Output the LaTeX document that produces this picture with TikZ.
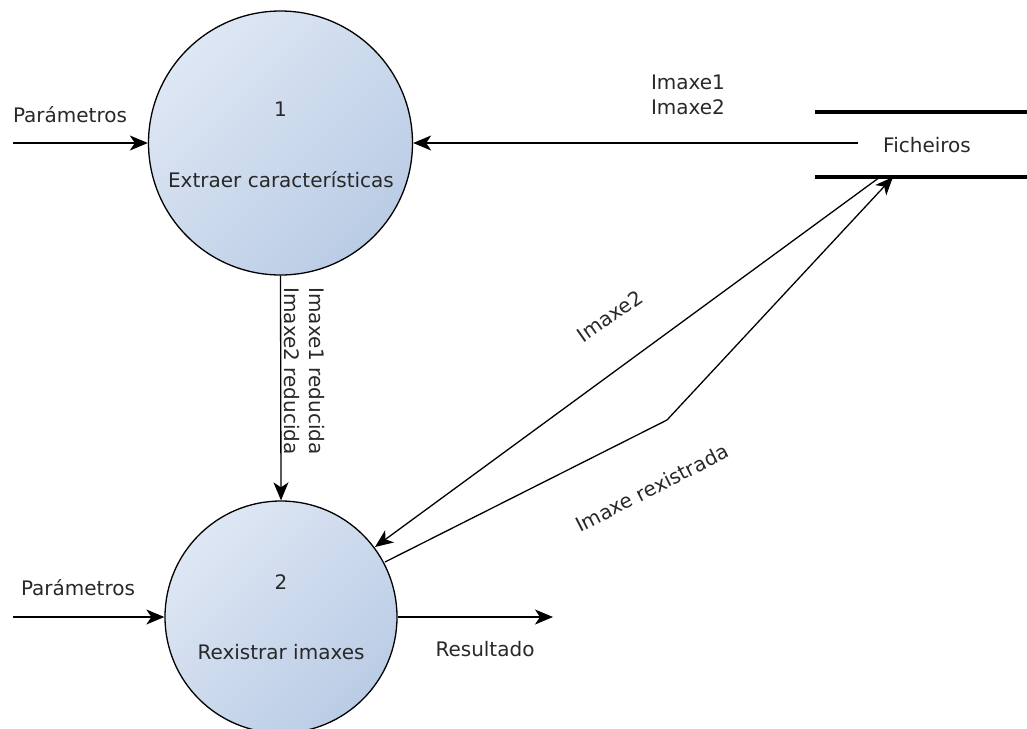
\documentclass[tikz,border=0pt]{standalone}
\usepackage{fontspec}
\setmainfont{DejaVu Sans}
\usetikzlibrary{arrows.meta}
\definecolor{txt}{RGB}{40,40,40}
\definecolor{procA}{RGB}{222,231,244}
\definecolor{procB}{RGB}{186,204,229}
\begin{document}
\begin{tikzpicture}[x=1pt,y=-1pt,
  every node/.style={font=\fontsize{20}{25}\selectfont, text=txt, inner sep=0pt},
  process/.style={circle, draw=black, line width=1.3pt, inner sep=0pt,
    shading=axis, top color=procA, bottom color=procB, shading angle=45},
  flow/.style={line width=1.3pt, -{Stealth[length=18pt,width=15pt,inset=5pt]}},
  plainflow/.style={line width=1.3pt},
  storeline/.style={line width=3.2pt}]
\useasboundingbox (0,0) rectangle (1027,728);

% processes
\node[process, minimum size=264pt] (p1) at (280.5,143) {};
\node[process, minimum size=232pt] (p2) at (281,617) {};
\node (n1) at (280.5,109) {1};
\node (t1) at (281,180) {Extraer características};
\node (n2) at (281,582) {2};
\node (t2) at (281,652) {Rexistrar imaxes};

% data store
\coordinate (sTL) at (815,112);
\coordinate (sTR) at (1030,112);
\coordinate (sBL) at (815,177);
\coordinate (sBR) at (1030,177);
\draw[storeline] (sTL) -- (sTR);
\draw[storeline] (sBL) -- (sBR);
\node (store) at (927,145) {Ficheiros};

% free ends
\coordinate (in1) at (13,143);
\coordinate (in2) at (13,617);
\coordinate (out2) at (553,617);
\coordinate (fromStore) at (858,143);
\coordinate (sOut) at (880,177);
\coordinate (sIn) at (893,177);
\coordinate (bend) at (667,420);
\coordinate (p2in) at (375,547);
\coordinate (p2out) at (385,562);

% flows
\draw[flow] (in1) -- (p1.west);
\draw[flow] (in2) -- (p2.west);
\draw[flow] (fromStore) -- (p1.east);
\draw[flow] (p1.south) -- (p2.north);
\draw[flow] (sOut) -- (p2in);
\draw[plainflow] (p2out) -- (bend);
\draw[flow] (bend) -- (sIn);
\draw[flow] (p2.east) -- (out2);

% flow labels
\node (lpar1) at (70,115) {Parámetros};
\node (lpar2) at (78,588) {Parámetros};
\node[align=left] (limg) at (688,95) {Imaxe1\\Imaxe2};
\node[align=left, rotate=-90] (lred) at (304.5,371) {Imaxe1 reducida\\Imaxe2 reducida};
\node[rotate=35] (limg2) at (610,316) {Imaxe2};
\node[rotate=27] (lreg) at (652,488) {Imaxe rexistrada};
\node (lres) at (485,649) {Resultado};
\end{tikzpicture}
\end{document}
